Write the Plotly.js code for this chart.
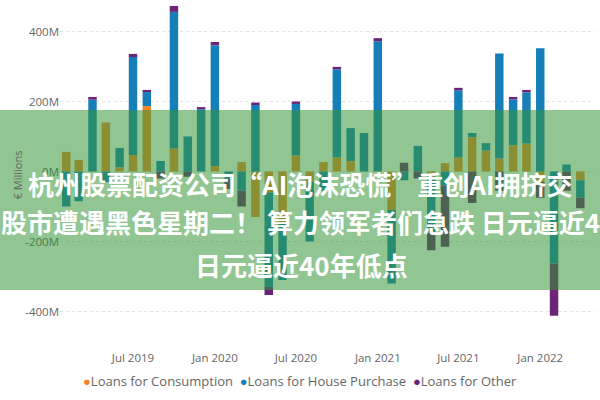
<!DOCTYPE html>
<html>
<head>
<meta charset="utf-8">
<script src="https://cdn.plot.ly/plotly-3.0.1.min.js"></script>
<style>html,body{margin:0;padding:0;background:#fff;}#chart{width:600px;height:400px;}</style>
</head>
<body>
<div id="chart"></div>
<script>
// ---- data (values in € millions) ----
const months = [
  '2019-02-01','2019-03-01','2019-04-01','2019-05-01','2019-06-01','2019-07-01','2019-08-01','2019-09-01',
  '2019-10-01','2019-11-01','2019-12-01','2020-01-01','2020-02-01','2020-03-01','2020-04-01','2020-05-01',
  '2020-06-01','2020-07-01','2020-08-01','2020-09-01','2020-10-01','2020-11-01','2020-12-01','2021-01-01',
  '2021-02-01','2021-03-01','2021-04-01','2021-05-01','2021-06-01','2021-07-01','2021-08-01','2021-09-01',
  '2021-10-01','2021-11-01','2021-12-01','2022-01-01','2022-02-01','2022-03-01','2022-04-01'
];
const consumption = [56,33,0,140,12,47,187,0,66,0,0,16,0,27,-130,-60,-150,46,-30,27,40,30,0,0,-110,0,0,-15,24,40,98,60,37,75,80,-30,0,0,-25];
const housePurchase = [-100,-85,205,-30,55,280,40,30,390,100,178,345,-20,-55,190,-270,-160,147,-170,-55,252,94,110,372,-210,-25,73,-160,-40,192,12,21,300,131,146,352,-263,20,-50];
const otherLoans = [0,0,8,0,0,9,6,-20,17,-15,6,9,-30,-45,7,-23,0,7,0,0,7,0,0,9,0,25,-20,-50,-175,7,-90,0,-55,7,7,-45,-149,-55,-30];

const seriesNames = ['Loans for Consumption','Loans for House Purchase','Loans for Other'];
const seriesColors = ['#F2862A','#167FBA','#6B2478'];
const xTickVals = ['2019-07-01','2020-01-01','2020-07-01','2021-01-01','2021-07-01','2022-01-01'];
const xTickText = ['Jul 2019','Jan 2020','Jul 2020','Jan 2021','Jul 2021','Jan 2022'];
const yTickVals = [-400,-200,0,200,400];
const yTickText = ['-400M','-200M','0M','200M','400M'];
const bannerLines = [
  '杭州股票配资公司“AI泡沫恐慌”重创AI拥挤交',
  '股市遭遇黑色星期二！ 算力领军者们急跌 日元逼近40',
  '日元逼近40年低点'
];

// ---- geometry helpers ----
const M = {l:60, r:5, t:5, b:55};
const PW = 600 - M.l - M.r, PH = 400 - M.t - M.b;
const px = x => (x - M.l) / PW;
const py = y => (400 - M.b - y) / PH;
const DAY = 86400000;

const allSeries = [consumption, housePurchase, otherLoans];
const traces = allSeries.map((vals, k) => ({
  type: 'bar',
  x: months,
  y: vals,
  name: seriesNames[k],
  marker: {color: seriesColors[k], line: {width: 0}},
  width: 19 * DAY,
  showlegend: false,
  hoverinfo: 'x+y+name'
}));

const legendText = seriesNames.map((n, k) =>
  '<span style="color:' + seriesColors[k] + '">●</span>' + n).join('  ');

const bannerFont = {family: 'Noto Sans CJK SC', size: 26, color: '#ffffff', weight: 'bold'};

const layout = {
  width: 600, height: 400,
  margin: M,
  paper_bgcolor: '#ffffff', plot_bgcolor: '#ffffff',
  barmode: 'relative',
  font: {family: 'Open Sans, Noto Sans, sans-serif', color: '#666666', size: 11.5},
  xaxis: {
    type: 'date',
    range: ['2019-01-18', '2022-05-04'],
    tickvals: xTickVals, ticktext: xTickText,
    showgrid: false, zeroline: false, showline: false, ticks: '',
    ticklabelstandoff: 4,
    tickfont: {size: 11.5, color: '#666666'}
  },
  yaxis: {
    range: [-(345 - 171.5) / 0.35, (171.5 - 5) / 0.35],
    tickvals: yTickVals, ticktext: yTickText,
    showgrid: true, gridcolor: '#e2e2e2', griddash: 'dot', gridwidth: 1,
    zeroline: false, showline: false, ticks: '',
    tickfont: {size: 11.5, color: '#666666'},
    title: {text: '€ Millions', font: {size: 11, color: '#666666'}, standoff: 0}
  },
  shapes: [{
    type: 'rect', xref: 'paper', yref: 'paper', layer: 'above',
    x0: px(0), x1: px(600), y0: py(290), y1: py(110),
    fillcolor: 'rgba(55,150,55,0.55)', line: {width: 0}
  }],
  annotations: [
    {xref: 'paper', yref: 'paper', x: px(300), y: py(381), text: legendText, showarrow: false,
     font: {size: 13, color: '#666666'}, xanchor: 'center', yanchor: 'middle'},
    {xref: 'paper', yref: 'paper', x: px(300), y: py(183), text: bannerLines[0], showarrow: false,
     font: bannerFont, xanchor: 'center', yanchor: 'middle'},
    {xref: 'paper', yref: 'paper', x: px(-1), y: py(222), text: bannerLines[1], showarrow: false,
     font: bannerFont, xanchor: 'left', yanchor: 'middle'},
    {xref: 'paper', yref: 'paper', x: px(301), y: py(264), text: bannerLines[2], showarrow: false,
     font: bannerFont, xanchor: 'center', yanchor: 'middle'}
  ]
};

Plotly.newPlot('chart', traces, layout, {displayModeBar: false, staticPlot: true});
</script>
</body>
</html>
